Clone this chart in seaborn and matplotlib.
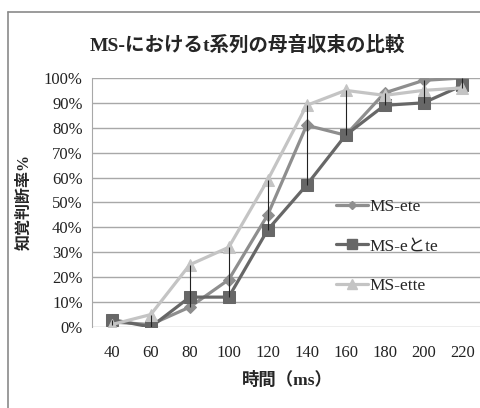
"""
Recreation of an Excel-style line chart: vowel convergence of t-series in MS-.
"""

import pandas as pd
import seaborn as sns
import matplotlib.pyplot as plt
from matplotlib.lines import Line2D
from matplotlib.ticker import PercentFormatter

sns.set_style("white")
plt.rcParams['font.family'] = ['Liberation Serif', 'Noto Sans CJK JP']

# Data.
times = [40, 60, 80, 100, 120, 140, 160, 180, 200, 220]
ms_ete = [2, 1, 8, 19, 45, 81, 77, 94, 99, 100]
ms_e_to_te = [3, 0, 12, 12, 39, 57, 77, 89, 90, 97]
ms_ette = [1, 5, 25, 32, 59, 89, 95, 93, 95, 96]
series_names = ["MS-ete", "MS-eとte", "MS-ette"]

df = pd.DataFrame({"time": times * 3,
                   "value": ms_ete + ms_e_to_te + ms_ette,
                   "series": [series_names[0]] * 10 + [series_names[1]] * 10 + [series_names[2]] * 10})

colors = {"MS-ete": "#8e8e8e", "MS-eとte": "#676767", "MS-ette": "#c4c4c4"}
markers = {"MS-ete": "D", "MS-eとte": "s", "MS-ette": "^"}
msizes = {"MS-ete": 6, "MS-eとte": 9, "MS-ette": 9}

fig = plt.figure(figsize = (4.81, 4.08), dpi = 100)
ax = fig.add_axes([0.192, 0.1985, 0.81, 0.6105])

# High-low lines, drawn first so the series sit on top.
wide = df.pivot(index = "time", columns = "series", values = "value")
ax.vlines(wide.index, wide.min(axis = 1), wide.max(axis = 1), color = "#222222", linewidth = 0.8, zorder = 4)

for name in series_names:
    sub = df[df["series"] == name]
    sns.lineplot(x = "time", y = "value", data = sub, ax = ax, color = colors[name],
                 marker = markers[name], markersize = msizes[name], markeredgecolor = colors[name],
                 linewidth = 2.3, legend = False, zorder = 3)

ax.set_xlim(30, 230)
ax.set_ylim(0, 100)
ax.set_xticks(times)
ax.set_yticks(range(0, 101, 10))
ax.yaxis.set_major_formatter(PercentFormatter(decimals = 0))
ax.grid(axis = "y", color = "#a8a8a8", linewidth = 1)
ax.tick_params(axis = "both", labelsize = 12, colors = "#222222")
ax.tick_params(axis = "y", length = 4, color = "#a8a8a8", pad = 3)
ax.tick_params(axis = "x", length = 0, pad = 13)
for side in ["top", "right", "bottom"]:
    ax.spines[side].set_visible(False)
ax.spines["left"].set_color("#a8a8a8")
ax.set_axisbelow(True)

ax.set_xlabel("時間（ms）", fontsize = 12.5, labelpad = 8, fontweight = "bold")
ax.set_ylabel("知覚判断率%", fontsize = 11.5, labelpad = 8, fontweight = "bold")
fig.text(0.515, 0.889, "MS-におけるt系列の母音収束の比較", ha = "center", va = "center",
         fontsize = 14, fontweight = "bold")

handles = [Line2D([0], [0], color = colors[n], marker = markers[n], markersize = msizes[n] - 2,
                  markeredgecolor = colors[n], linewidth = 2.3) for n in series_names]
fig.legend(handles, series_names, loc = "upper left", bbox_to_anchor = (0.685, 0.53),
           frameon = False, fontsize = 12.5, handlelength = 1.8, handletextpad = 0.1,
           labelspacing = 1.35, borderaxespad = 0)

# Chart-area border: top and left edges visible within the crop.
fig.add_artist(Line2D([0.0166, 1.0], [0.97, 0.97], color = "#8a8a8a", linewidth = 1.2, transform = fig.transFigure))
fig.add_artist(Line2D([0.0166, 0.0166], [0.0, 0.97], color = "#8a8a8a", linewidth = 1.2, transform = fig.transFigure))

plt.savefig("out.png", dpi = 100)
